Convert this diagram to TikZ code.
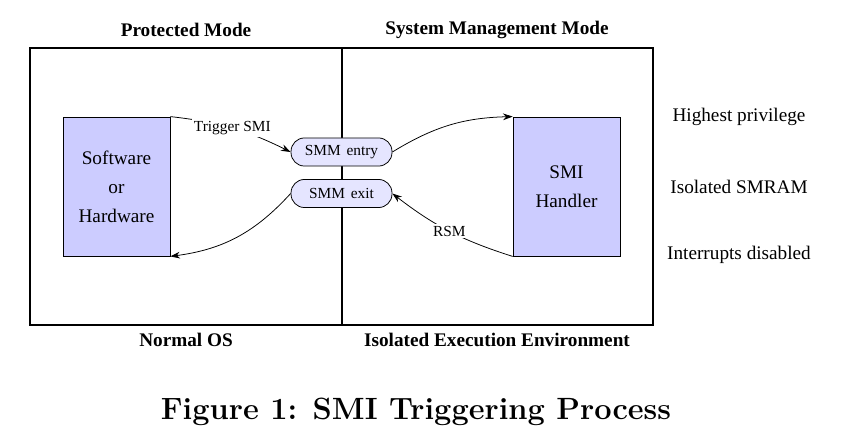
\documentclass[tikz,border=0pt]{standalone}
\usepackage{fontspec}
\setmainfont{Liberation Serif}
\newfontfamily\lmfont{Latin Modern Roman}
\usetikzlibrary{arrows.meta}
\begin{document}
\begin{tikzpicture}[
    x=0.52pt, y=-0.52pt,
    unit/.style={rectangle, draw, fill=blue!20, align=center, minimum width=55.6pt, minimum height=72.3pt},
    pill/.style={rectangle, rounded corners=7pt, draw, fill=blue!10, font=\footnotesize, minimum width=52.5pt, minimum height=14.6pt, inner sep=1pt},
    heading/.style={font=\bfseries},
    flow/.style={draw, -{Stealth[length=5pt, width=3.5pt]}},
    tag/.style={font=\footnotesize, fill=white, inner sep=1pt}
]
\useasboundingbox (0,0) rectangle (860,448);
% frame and divider
\draw[line width=1pt] (30,48) rectangle (653,325);
\draw[line width=1pt] (342,48) -- (342,325);

\node [heading] (pm) at (186,30) {Protected Mode};
\node [heading] (smm) at (497,30) {System Management Mode};
\node [heading] (os) at (186,340) {Normal OS};
\node [heading] (iee) at (497,340) {Isolated Execution Environment};

\node [unit] (sw) at (116.5,186.5) {Software\\[3pt]or\\[3pt]Hardware};
\node [unit] (handler) at (566.5,186.5) {SMI\\[3pt]Handler};

\node [pill] (entry) at (341.5,152) {SMM\hspace{3pt}entry};
\node [pill] (exit) at (341.5,193.5) {SMM\hspace{3pt}exit};

\node (priv) at (739,117) {Highest privilege};
\node (smram) at (739,187) {Isolated SMRAM};
\node (irq) at (739,255) {Interrupts disabled};

\draw [flow] (sw.north east) to [bend left=10] node [tag] {Trigger SMI} (entry.west);
\draw [flow] (entry.east) to [bend left=15] (handler.north west);
\draw [flow] (handler.south west) to [bend left=10] node [tag] {RSM} (exit.east);
\draw [flow] (exit.west) to [bend left=20] (sw.south east);

\node [font=\lmfont\fontsize{16}{19}\selectfont\bfseries] (caption) at (416,412) {Figure 1:\enspace SMI Triggering Process};
\end{tikzpicture}
\end{document}
